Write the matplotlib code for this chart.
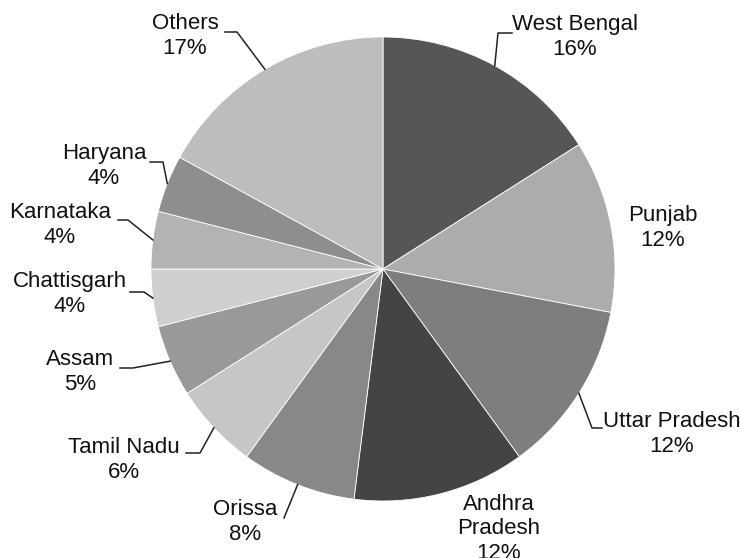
import numpy as np
import matplotlib
matplotlib.use("Agg")
import matplotlib.pyplot as plt

# state shares (%), clockwise from 12 o'clock
states = ["West Bengal", "Punjab", "Uttar Pradesh", "Andhra\nPradesh", "Orissa",
          "Tamil Nadu", "Assam", "Chattisgarh", "Karnataka", "Haryana", "Others"]
shares = [16, 12, 12, 12, 8, 6, 5, 4, 4, 4, 17]
greys = ["#565656", "#acacac", "#7e7e7e", "#444444", "#888888", "#c6c6c6",
         "#999999", "#cfcfcf", "#b3b3b3", "#8e8e8e", "#bdbdbd"]

W, H = 740, 558
CX, CY, R = 383, 269, 232  # pie centre / radius in image pixels

# label block centres (image px) and leader elbow / end points (None = no leader)
label_pos = [(575, 37), (663, 228), (672, 434), (499, 529), (245, 522),
             (124, 460), (80, 372), (70, 294), (60, 225), (104, 166), (185, 36)]
leaders = [[(498, 33), (512, 33)],
           None,
           [(592, 428), (602, 428)],
           None,
           [(284, 518)],
           [(200, 453), (186, 453)],
           [(133, 368), (120, 368)],
           [(144, 292), (130, 292)],
           [(128, 220), (118, 220)],
           [(163, 162), (150, 162)],
           [(237, 32), (225, 32)]]

plt.rcParams["font.family"] = ["Liberation Sans", "DejaVu Sans"]

fig = plt.figure(figsize=(W / 100, H / 100), dpi=100)
ax = fig.add_axes([0, 0, 1, 1])

wedges, _ = ax.pie(shares, colors=greys, startangle=90, counterclock=False,
                   center=(CX, H - CY), radius=R,
                   wedgeprops=dict(edgecolor="white", linewidth=0.6))
ax.set_xlim(0, W)
ax.set_ylim(0, H)
ax.set_aspect("equal")
ax.axis("off")

for w, name, pct, (tx, ty), pts in zip(wedges, states, shares, label_pos, leaders):
    mid = np.deg2rad((w.theta1 + w.theta2) / 2)
    ax.text(tx, H - ty, f"{name}\n{pct}%", ha="center", va="center",
            fontsize=16, linespacing=1.22, color="#111111")
    if pts:
        ex = CX + R * np.cos(mid)
        ey = H - CY + R * np.sin(mid)
        xs = [ex] + [p[0] for p in pts]
        ys = [ey] + [H - p[1] for p in pts]
        ax.plot(xs, ys, color="#222222", lw=1.1)

fig.savefig("out.png", dpi=100)
